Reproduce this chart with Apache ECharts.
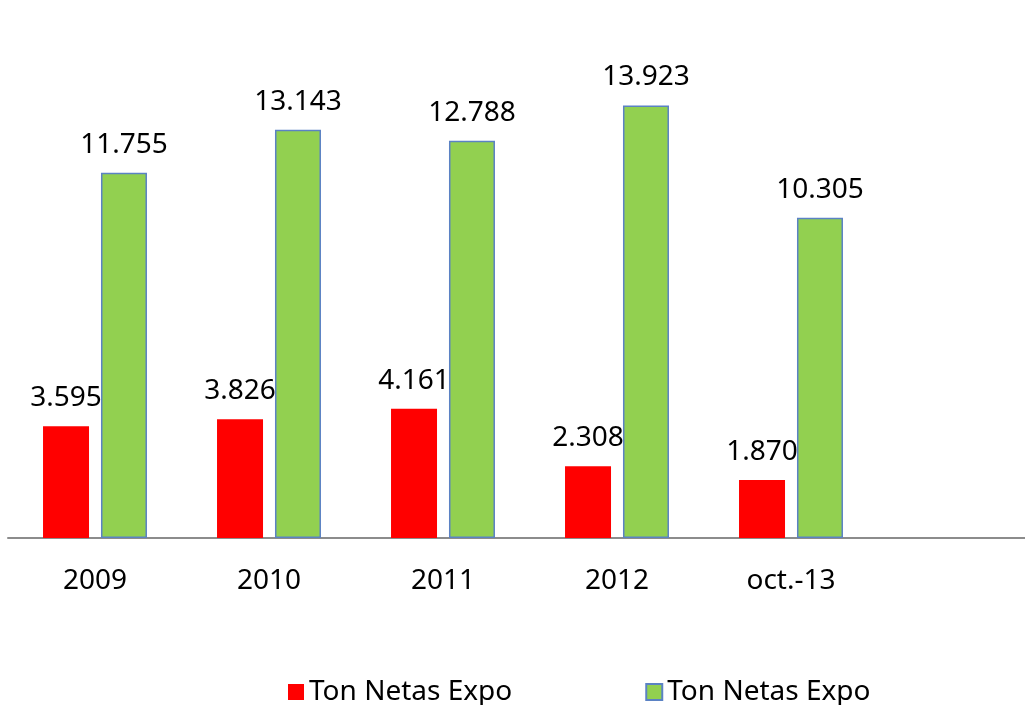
<!DOCTYPE html>
<html>
<head>
<meta charset="utf-8">
<script src="https://cdn.jsdelivr.net/npm/echarts@6/dist/echarts.min.js"></script>
<style>
  html, body { margin: 0; padding: 0; background: #fff; }
  #chart { width: 1025px; height: 705px; }
</style>
</head>
<body>
<div id="chart"></div>
<script>
// categories (last slot left empty, as in the original sheet)
var categories = ['2009', '2010', '2011', '2012', 'oct.-13', ''];
var redValues = [3595, 3826, 4161, 2308, 1870];
var greenValues = [11755, 13143, 12788, 13923, 10305];
var legendLabels = ['Ton Netas Expo', 'Ton Netas Expo'];

var FONT = '"Noto Sans", sans-serif';

function fmtThousands(v) {
  return String(v).replace(/\B(?=(\d{3})+(?!\d))/g, '.');
}

var chart = echarts.init(document.getElementById('chart'));

var option = {
  animation: false,
  textStyle: { fontFamily: FONT, color: '#000' },
  grid: { left: 8, top: 72, width: 1044, height: 466, outerBoundsMode: 'none', containLabel: false },
  legend: {
    left: 283,
    top: 673,
    itemWidth: 16,
    itemHeight: 16,
    itemGap: 133,
    icon: 'rect',
    data: ['expo1', 'expo2'],
    formatter: function (name) {
      return name === 'expo1' ? legendLabels[0] : legendLabels[1];
    },
    textStyle: { fontSize: 28, fontFamily: FONT, color: '#000' }
  },
  xAxis: {
    type: 'category',
    data: categories,
    axisLine: { lineStyle: { color: '#8c8c8c', width: 2 } },
    axisTick: { show: false },
    axisLabel: { fontSize: 28, fontFamily: FONT, color: '#000', margin: 29 }
  },
  yAxis: {
    type: 'value',
    min: 0,
    max: 15000,
    show: false,
    splitLine: { show: false }
  },
  series: [
    {
      name: 'expo1',
      type: 'bar',
      data: redValues,
      barWidth: 46,
      barGap: '26%',
      itemStyle: { color: '#ff0000' },
      label: {
        show: true,
        position: 'top',
        distance: 14,
        fontSize: 28,
        fontFamily: FONT,
        color: '#000',
        formatter: function (p) { return fmtThousands(p.value); }
      }
    },
    {
      name: 'expo2',
      type: 'bar',
      data: greenValues,
      barWidth: 46,
      itemStyle: { color: '#92d050', borderColor: '#5b82c4', borderWidth: 1.5 },
      label: {
        show: true,
        position: 'top',
        distance: 14,
        fontSize: 28,
        fontFamily: FONT,
        color: '#000',
        formatter: function (p) { return fmtThousands(p.value); }
      }
    }
  ]
};

chart.setOption(option);
</script>
</body>
</html>
